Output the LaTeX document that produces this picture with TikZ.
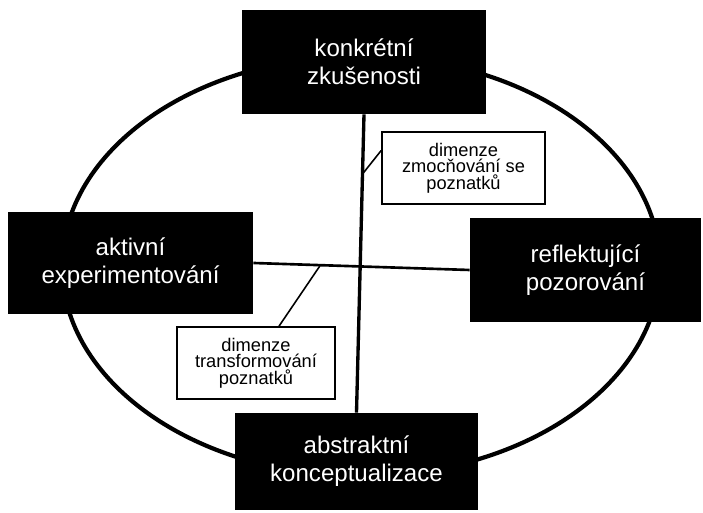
\documentclass[tikz,border=0pt]{standalone}
\usepackage{fontspec}
\setmainfont{Liberation Sans}
\usetikzlibrary{calc}

\begin{document}
\begin{tikzpicture}[
    fazebox/.style={fill=black, text=white, align=center, inner sep=0pt,
      font={\fontsize{13.7}{15.9}\selectfont\lineskiplimit-20pt\relax}},
    dimbox/.style={draw, fill=white, line width=0.9pt, align=center, inner sep=0pt,
      minimum height=1.44cm, font={\fontsize{10.4}{9.4}\selectfont\lineskiplimit-20pt\relax}}]
      \useasboundingbox (0,0) rectangle (14.06,10.26);
      \draw[line width=2.4pt] (7.22,4.94) ellipse (5.98 and 4.20);
      \node[fazebox, minimum width=4.88cm, minimum height=2.08cm] (konk) at (7.28,9.02) {konkrétní\\zkušenosti};
      \node[fazebox, minimum width=4.90cm, minimum height=2.04cm] (aktiv) at (2.61,5.00) {aktivní\\experimentování};
      \node[fazebox, minimum width=4.62cm, minimum height=2.08cm] (reflex) at (11.71,4.86) {reflektující\\pozorování};
      \node[fazebox, minimum width=4.86cm, minimum height=1.94cm] (abstr) at (7.13,1.03) {abstraktní\\konceptualizace};
      \draw[line width=1.9pt] (konk.south) -- (abstr.north);
      \draw[line width=1.5pt] (aktiv.east) -- (reflex.west);
      \node[dimbox, minimum width=3.26cm] (dzmoc) at (9.27,6.90) {dimenze\\zmocňování se\\poznatků};
      \node[dimbox, minimum width=3.16cm] (dtrans) at (5.12,3.00) {dimenze\\transformování\\poznatků};
      \coordinate (svisla) at ($(konk.south)!0.2!(abstr.north)$);
      \coordinate (vodor) at ($(aktiv.east)!0.31!(reflex.west)$);
      \draw[line width=0.9pt] (dzmoc.168.9) -- (svisla);
      \draw[line width=0.9pt] (dtrans.58.6) -- (vodor);
\end{tikzpicture}
\end{document}
